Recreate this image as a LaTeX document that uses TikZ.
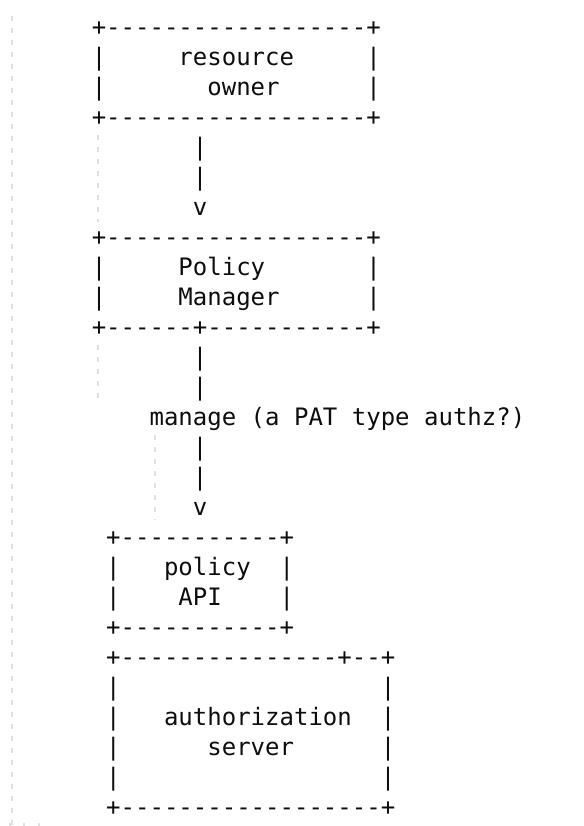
\documentclass[tikz,border=0pt]{standalone}
\usepackage{fontspec}
\setmonofont{DejaVu Sans Mono}

\begin{document}
\begin{tikzpicture}[
    x=10.837pt, y=-22.5pt,
    ascii/.style={anchor=base west, inner sep=0pt, outer sep=0pt, text=black!95, font=\ttfamily\fontsize{18}{22.5}\selectfont},
    guide/.style={draw=black!12, line width=1.5pt, dash pattern=on 3.75pt off 5.25pt}
]
\useasboundingbox (-68.85pt,26.25pt) rectangle (369.15pt,-593.25pt);

% Indent guides
\draw[guide] (-59.85pt,14.25pt) -- (-59.85pt,-593.25pt);
\draw[guide] (4.65pt,-75pt) -- (4.65pt,-140.25pt);
\draw[guide] (4.65pt,-232.5pt) -- (4.65pt,-273.75pt);
\draw[guide] (47.4pt,-300pt) -- (47.4pt,-363.75pt);
\foreach \gx in {-61.35,-50.85,-39.6}
    \draw[draw=black!12, line width=1.5pt] (\gx pt,-591pt) -- (\gx pt,-593.25pt);

% Resource owner
\node[ascii] (ownerTop) at (0,0) {+------------------+};
\node[ascii] (owner1) at (0,1) {|~~~~~resource~~~~~|};
\node[ascii] (owner2) at (0,2) {|~~~~~~~owner~~~~~~|};
\node[ascii] (ownerBot) at (0,3) {+------------------+};

% Arrow owner -> manager
\node[ascii] (link1a) at (7,4) {|};
\node[ascii] (link1b) at (7,5) {|};
\node[ascii] (link1v) at (7,6) {v};

% Policy manager
\node[ascii] (managerTop) at (0,7) {+------------------+};
\node[ascii] (manager1) at (0,8) {|~~~~~Policy~~~~~~~|};
\node[ascii] (manager2) at (0,9) {|~~~~~Manager~~~~~~|};
\node[ascii] (managerBot) at (0,10) {+------+-----------+};

% Arrow manager -> policy API
\node[ascii] (link2a) at (7,11) {|};
\node[ascii] (link2b) at (7,12) {|};
\node[ascii] (manage) at (4,13) {manage (a PAT type authz?)};
\node[ascii] (link2c) at (7,14) {|};
\node[ascii] (link2d) at (7,15) {|};
\node[ascii] (link2v) at (7,16) {v};

% Policy API
\node[ascii] (apiTop) at (1,17) {+-----------+};
\node[ascii] (api1) at (1,18) {|~~~policy~~|};
\node[ascii] (api2) at (1,19) {|~~~~API~~~~|};
\node[ascii] (apiBot) at (1,20) {+-----------+};

% Authorization server
\node[ascii] (serverTop) at (1,21) {+---------------+--+};
\node[ascii] (server1) at (1,22) {|~~~~~~~~~~~~~~~~~~|};
\node[ascii] (server2) at (1,23) {|~~~authorization~~|};
\node[ascii] (server3) at (1,24) {|~~~~~~server~~~~~~|};
\node[ascii] (server4) at (1,25) {|~~~~~~~~~~~~~~~~~~|};
\node[ascii] (serverBot) at (1,26) {+------------------+};
\end{tikzpicture}
\end{document}
